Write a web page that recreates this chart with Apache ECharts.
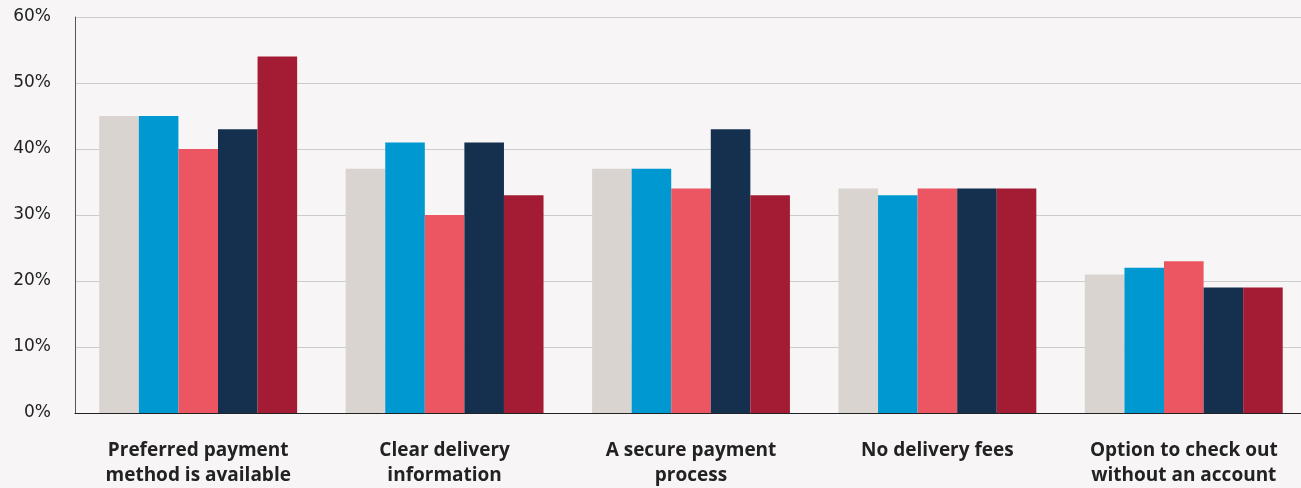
<!DOCTYPE html>
<html><head><meta charset="utf-8">
<script src="https://cdn.jsdelivr.net/npm/echarts@6/dist/echarts.min.js"></script>
<style>html,body{margin:0;padding:0;background:#f7f5f6;overflow:hidden;width:1301px;height:488px;}#c{width:1307px;height:488px;}</style>
</head><body><div id="c"></div>
<script>
const categories = ['Preferred payment\nmethod is available','Clear delivery\ninformation','A secure payment\nprocess','No delivery fees','Option to check out\nwithout an account'];
const series1 = [45,37,37,34,21];
const series2 = [45,41,37,33,22];
const series3 = [40,30,34,34,23];
const series4 = [43,41,43,34,19];
const series5 = [54,33,33,34,19];
const colors = ['#d9d4d0','#0098d1','#ec5662','#15304f','#a41c33'];
const allSeries = [series1,series2,series3,series4,series5];
const chart = echarts.init(document.getElementById('c'));
chart.setOption({
  backgroundColor:'#f7f5f6',
  animation:false,
  grid:{left:75,right:0,top:17,bottom:75,containLabel:false},
  xAxis:{type:'category',data:categories,
    axisLine:{lineStyle:{color:'#222',width:1}},axisTick:{show:false},
    axisLabel:{margin:25,color:'#222',fontFamily:'Open Sans',fontWeight:'bold',fontSize:19,lineHeight:25,interval:0}},
  yAxis:{type:'value',min:0,max:60,interval:10,
    axisLine:{show:true,lineStyle:{color:'#555',width:1}},axisTick:{show:false},
    splitLine:{lineStyle:{color:'#cccccc',width:1}},
    axisLabel:{formatter:'{value}%',margin:24,color:'#222',fontFamily:'DejaVu Sans',fontSize:17}},
  series: allSeries.map((d,i)=>({type:'bar',data:d,barGap:'0%',barCategoryGap:'19.7%',itemStyle:{color:colors[i]}}))
});
</script></body></html>
